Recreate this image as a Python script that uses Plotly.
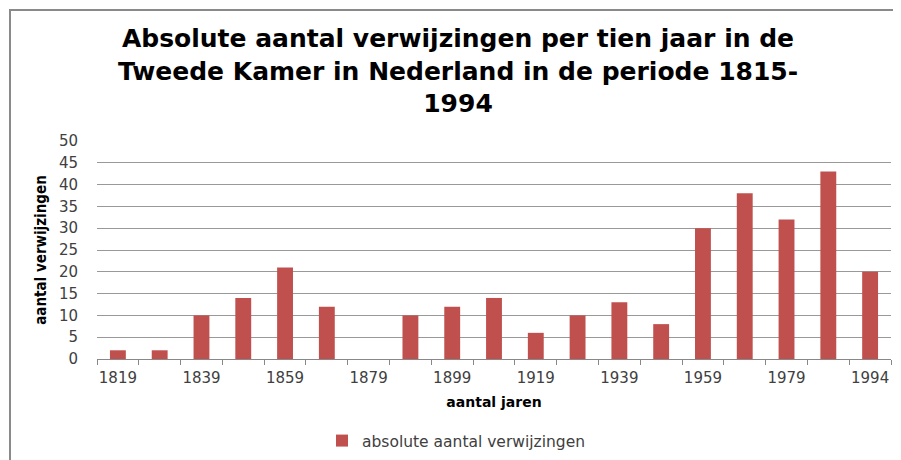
import plotly.graph_objects as go

# Data
decades = ["1819", "1829", "1839", "1849", "1859", "1869", "1879", "1889", "1899", "1909",
           "1919", "1929", "1939", "1949", "1959", "1969", "1979", "1989", "1994"]
counts = [2, 2, 10, 14, 21, 12, 0, 10, 12, 14, 6, 10, 13, 8, 30, 38, 32, 43, 20]
shown_labels = ["1819", "1839", "1859", "1879", "1899", "1919", "1939", "1959", "1979", "1994"]
series_name = "absolute aantal verwijzingen"
title_lines = ["Absolute aantal verwijzingen per tien jaar in de",
               "Tweede Kamer in Nederland in de periode 1815-",
               "1994"]
y_ticks = [0, 5, 10, 15, 20, 25, 30, 35, 40, 45, 50]

tick_text = [d if d in shown_labels else "" for d in decades]

BAR = "#C0504D"
TXT = "#404040"
NARROW = "Liberation Sans Narrow, Arial Narrow, DejaVu Sans Condensed, sans-serif"
TICKF = "DejaVu Sans, Verdana, sans-serif"

fig = go.Figure()
fig.add_trace(go.Bar(
    x=decades, y=counts, name=series_name,
    marker=dict(color=BAR, line=dict(width=0)),
    showlegend=True,
))

fig.update_layout(
    width=901, height=460,
    margin=dict(l=89, r=18, t=133, b=109),
    paper_bgcolor="white", plot_bgcolor="white",
    bargap=0.62,
    title=dict(
        text="<br>".join(title_lines),
        x=450 / 901, xref="container", xanchor="center",
        y=1 - 39 / 460, yref="container", yanchor="top",
        font=dict(family="DejaVu Sans, sans-serif", size=25, color="black", weight="bold"),
    ),
    xaxis=dict(
        type="category", automargin=False,
        tickmode="array", tickvals=decades, ticktext=tick_text, tickangle=0,
        tickson="boundaries", ticks="outside", ticklen=5, tickcolor="#888",
        showline=True, linecolor="#888", linewidth=1,
        showgrid=False, ticklabelstandoff=5,
        tickfont=dict(family=TICKF, size=15, color=TXT),
        title=dict(text="<b>aantal jaren</b>", standoff=11,
                   font=dict(family=TICKF, size=14, color="black")),
    ),
    yaxis=dict(
        range=[0, 50], tickmode="array", tickvals=y_ticks, automargin=False,
        showgrid=True, gridcolor="#999", gridwidth=1,
        showline=False, zeroline=False, ticks="",
        ticklabelstandoff=18,
        tickfont=dict(family=TICKF, size=15, color=TXT),
        title=dict(text="<b>aantal verwijzingen</b>", standoff=8,
                   font=dict(family=NARROW, size=15, color="black")),
    ),
    legend=dict(
        orientation="h", x=314 / 901, xref="container", xanchor="left",
        y=1 - 433 / 460, yref="container", yanchor="middle",
        font=dict(family=TICKF, size=15.5, color=TXT),
        itemwidth=30,
    ),
    shapes=[dict(
        type="rect", xref="paper", yref="paper",
        xsizemode="pixel", ysizemode="pixel", xanchor=0, yanchor=0,
        x0=-87, x1=903, y0=-110, y1=349,
        line=dict(color="#8a8a8a", width=2), fillcolor="rgba(0,0,0,0)",
    )],
)

fig.write_html("out.html")
